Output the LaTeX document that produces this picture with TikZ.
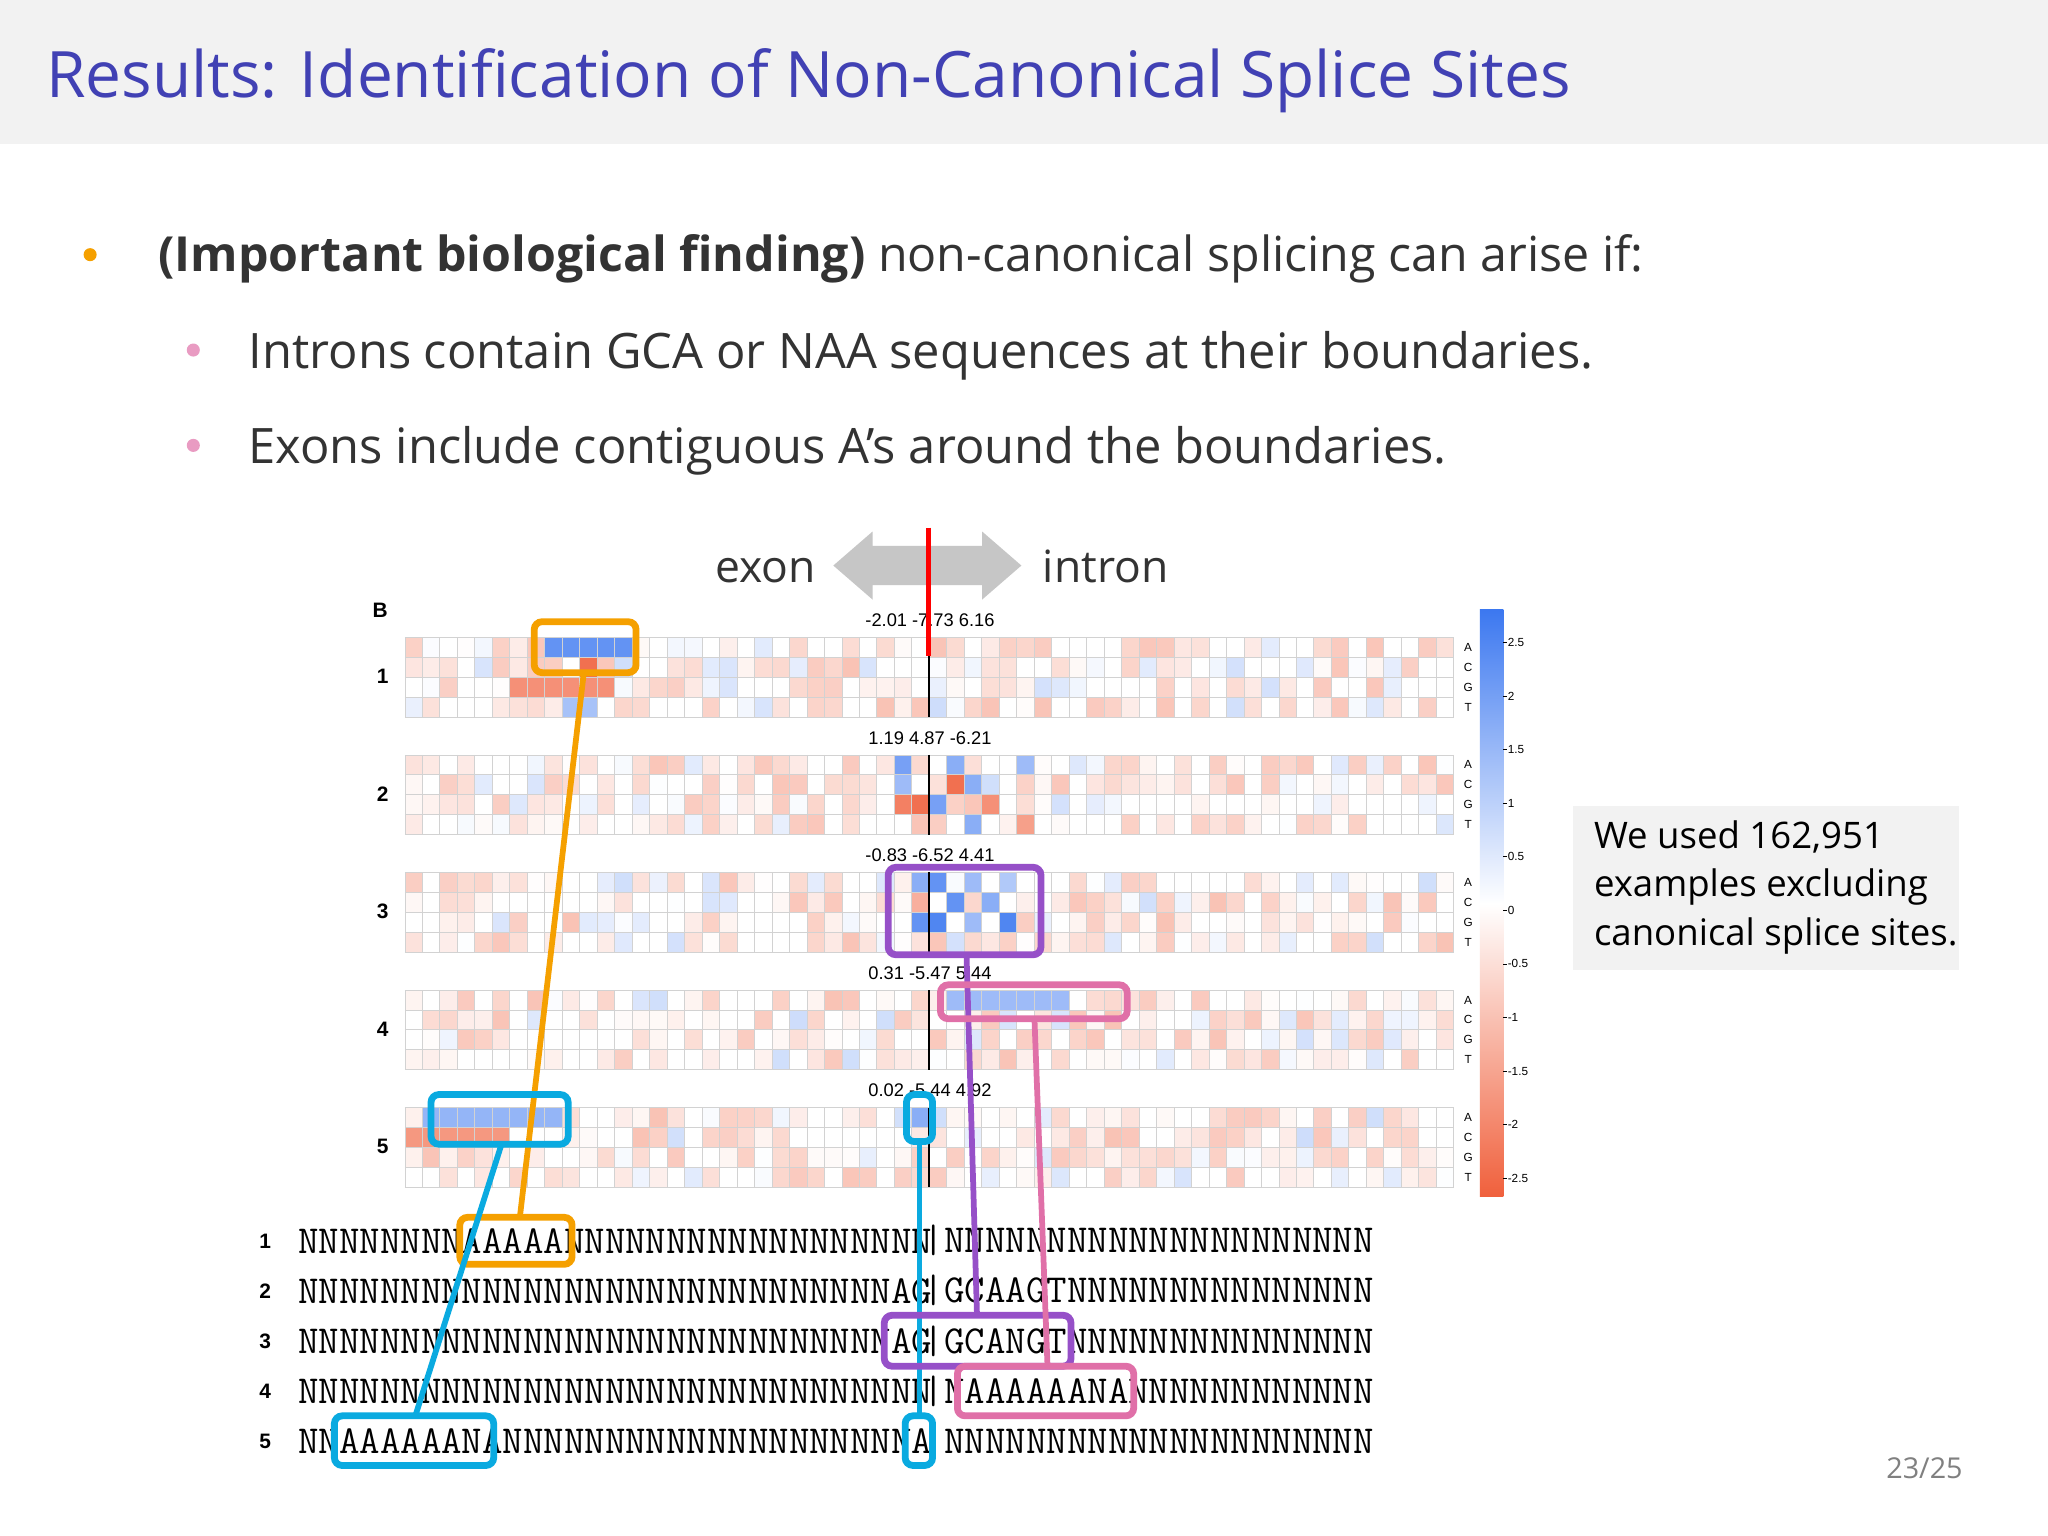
\documentclass[tikz,border=0pt]{standalone}
\usepackage{fontspec}
\setmainfont{Open Sans}
\newfontfamily\helv{Liberation Sans}
\usetikzlibrary{arrows.meta}
\definecolor{titlec}{HTML}{4141B4}
\definecolor{txt}{HTML}{333333}
\definecolor{hred}{HTML}{F0603C}
\definecolor{hblue}{HTML}{3C78F0}
\definecolor{orng}{HTML}{F5A000}
\definecolor{cyanb}{HTML}{0AAAE0}
\definecolor{purp}{HTML}{9650C8}
\definecolor{pinkb}{HTML}{E070A8}
\tikzset{hl/.style={line width=2.6pt,rounded corners=3pt},
 lk/.style={line width=2.2pt},
 small/.style={font=\helv\fontsize{7}{8}\selectfont,inner sep=0pt},
 seq/.style={font=\ttfamily\fontsize{15.2}{16}\selectfont,anchor=west,inner sep=0pt}}
\begin{document}
\begin{tikzpicture}[x=0.5pt,y=-0.5pt]
\useasboundingbox (0,0) rectangle (1568,1176);
\fill[white] (0,0) rectangle (1568,1176);
\fill[gray!10] (0,0) rectangle (1568,110);
\node[anchor=base west,text=titlec,font=\fontsize{24.5}{30}\selectfont,inner sep=0] (title) at (35,75) {Results: Identification of Non-Canonical Splice Sites};
\fill[orng] (69,195) circle (5);
\node[anchor=base west,text=txt,font=\fontsize{18.5}{24}\selectfont,inner sep=0] (b1) at (121,208) {\textbf{(Important biological finding)} non-canonical splicing can arise if:};
\fill[pinkb!70] (148,268) circle (5);
\node[anchor=base west,text=txt,font=\fontsize{18.7}{24}\selectfont,inner sep=0] (b2) at (190,282) {Introns contain GCA or NAA sequences at their boundaries.};
\fill[pinkb!70] (148,341) circle (5);
\node[anchor=base west,text=txt,font=\fontsize{18.7}{24}\selectfont,inner sep=0] (b3) at (190,355) {Exons include contiguous A’s around the boundaries.};
\fill[gray!45] (638,433) -- (668,407) -- (668,418) -- (752,418) -- (752,407) -- (782,433) -- (752,459) -- (752,448) -- (668,448) -- (668,459) -- cycle;
\node[anchor=base east,text=txt,font=\fontsize{17}{20}\selectfont,inner sep=0] (ex) at (625,446) {exon};
\node[anchor=base west,text=txt,font=\fontsize{17}{20}\selectfont,inner sep=0] (in) at (798,446) {intron};
\pgfmathsetseed{7}
\node[font=\helv\bfseries\fontsize{8}{9}\selectfont,inner sep=0] (B) at (291,467) {B};
\foreach \p/\y/\lab in {1/488/{-2.01 -7.73 6.16},2/578/{1.19 4.87 -6.21},3/668/{-0.83 -6.52 4.41},4/758/{0.31 -5.47 5.44},5/848/{0.02 -5.44 4.92}}{
 \foreach \r in {0,...,3}{
  \foreach \c in {0,...,59}{
   \pgfmathsetmacro\v{rnd}
   \pgfmathtruncatemacro\ri{\v>0.45 ? (\v-0.45)*70 : 0}
   \pgfmathtruncatemacro\bi{\v<0.15 ? (0.15-\v)*170 : 0}
   \fill[hred!\ri!white] (310+\c*13.383,\y+\r*15.25) rectangle ++(13.383,15.25);
   \ifnum\bi>0 \fill[hblue!\bi!white] (310+\c*13.383,\y+\r*15.25) rectangle ++(13.383,15.25);\fi
  }}
 \node[small] at (712,\y-13) {\lab};
 \node[font=\helv\bfseries\fontsize{8}{9}\selectfont,inner sep=0] at (293,\y+30) {\p};
 \foreach \b [count=\i from 0] in {A,C,G,T}
   \node[small,font=\helv\fontsize{4.5}{5}\selectfont] at (1124,\y+7.6+\i*15.25) {\b};
}
\newcommand\cellc[4]{\fill[#4] (310+#2*13.383,#1+#3*15.25) rectangle ++(13.383,15.25);}
\foreach \c in {8,...,12}{\cellc{488}{\c}{0}{hblue!80!white}}
\foreach \c in {6,...,11}{\cellc{488}{\c}{2}{hred!70!white}}
\cellc{488}{10}{1}{hred!90!white}\cellc{488}{9}{3}{hblue!45!white}\cellc{488}{10}{3}{hblue!45!white}
\cellc{578}{28}{0}{hblue!70!white}\cellc{578}{31}{0}{hblue!60!white}\cellc{578}{35}{0}{hblue!50!white}
\cellc{578}{31}{1}{hred!90!white}\cellc{578}{28}{1}{hblue!50!white}\cellc{578}{32}{1}{hblue!60!white}
\cellc{578}{29}{2}{hred!90!white}\cellc{578}{28}{2}{hred!80!white}\cellc{578}{30}{2}{hblue!70!white}\cellc{578}{33}{2}{hred!70!white}
\cellc{578}{32}{3}{hblue!60!white}\cellc{578}{35}{3}{hred!60!white}
\cellc{668}{29}{0}{hblue!60!white}\cellc{668}{30}{0}{hblue!80!white}\cellc{668}{32}{0}{hblue!50!white}\cellc{668}{34}{0}{hblue!40!white}
\cellc{668}{31}{1}{hblue!80!white}\cellc{668}{29}{1}{hred!50!white}\cellc{668}{33}{1}{hblue!60!white}
\cellc{668}{32}{2}{hblue!50!white}\cellc{668}{30}{2}{hblue!90!white}\cellc{668}{29}{2}{hblue!80!white}\cellc{668}{34}{2}{hblue!90!white}
\foreach \c in {31,...,37}{\cellc{758}{\c}{0}{hblue!50!white}}
\foreach \c in {1,...,8}{\cellc{848}{\c}{0}{hblue!55!white}}
\foreach \c in {0,...,5}{\cellc{848}{\c}{1}{hred!65!white}}
\cellc{848}{29}{0}{hblue!60!white}
\foreach \y in {488,578,668,758,848}{
 \foreach \c in {0,...,60}\draw[gray!35,line width=0.3pt] (310+\c*13.383,\y) -- ++(0,61);
 \foreach \r in {0,...,4}\draw[gray!35,line width=0.3pt] (310,\y+\r*15.25) -- ++(803,0);
 \draw[black,line width=0.7pt] (711.5,\y) -- ++(0,61);
}
\shade[top color=hblue,bottom color=white] (1133,467) rectangle (1151,692);
\shade[top color=white,bottom color=hred] (1133,692) rectangle (1151,916);
\foreach \t [count=\i from 0] in {2.5,2,1.5,1,0.5,0,-0.5,-1,-1.5,-2,-2.5}{
 \draw[line width=0.3pt] (1151,492+\i*41) -- ++(3,0);
 \node[small,anchor=west,font=\helv\fontsize{4.5}{5}\selectfont] at (1154,492+\i*41) {\t};}
\draw[red,line width=2pt] (711,404) -- (711,502);
\foreach \n/\s/\t [count=\i from 0] in {
1/{NNNNNNNNAAAAANNNNNNNNNNNNNNNNNN}/{|NNNNNNNNNNNNNNNNNNNNN},
2/{NNNNNNNNNNNNNNNNNNNNNNNNNNNNNAG}/{|GCAAGTNNNNNNNNNNNNNNN},
3/{NNNNNNNNNNNNNNNNNNNNNNNNNNNNNAG}/{|GCANGTNNNNNNNNNNNNNNN},
4/{NNNNNNNNNNNNNNNNNNNNNNNNNNNNNNN}/{|NAAAAAANANNNNNNNNNNNN},
5/{NNAAAAAANANNNNNNNNNNNNNNNNNNNNA}/{\ NNNNNNNNNNNNNNNNNNNNN}}{
 \node[font=\helv\bfseries\fontsize{8}{9}\selectfont,inner sep=0] at (203,950+\i*38.3) {\n};
 \node[seq] at (228,950+\i*38.3) {\s};
 \node[seq] at (707,950+\i*38.3) {\t};
}
\draw[hl,orng] (409,476) rectangle (487,515);
\draw[hl,orng] (352,932) rectangle (438,968);
\draw[lk,orng] (447,515) -- (398,932);
\draw[hl,cyanb] (330,838) rectangle (435,876);
\draw[hl,cyanb] (256,1084) rectangle (378,1122);
\draw[lk,cyanb] (384,876) -- (318,1084);
\draw[hl,cyanb] (694,838) rectangle (714,874);
\draw[hl,cyanb] (693,1084) rectangle (714,1122);
\draw[lk,cyanb] (704,874) -- (704,1084);
\draw[hl,purp] (680,664) rectangle (797,731);
\draw[hl,purp] (677,1007) rectangle (820,1046);
\draw[lk,purp] (740,731) -- (748,1007);
\draw[hl,pinkb] (720,754) rectangle (863,780);
\draw[hl,pinkb] (733,1046) rectangle (868,1084);
\draw[lk,pinkb] (792,780) -- (802,1046);
\fill[gray!10] (1204,617) rectangle (1500,743);
\node[anchor=north west,align=left,text=black,font=\fontsize{14}{18.5}\selectfont,inner sep=0] (note) at (1220,628) {We used 162,951\\examples excluding\\canonical splice sites.};
\node[anchor=base east,text=gray,font=\fontsize{11}{12}\selectfont,inner sep=0] (pg) at (1503,1132) {23/25};
\end{tikzpicture}
\end{document}
